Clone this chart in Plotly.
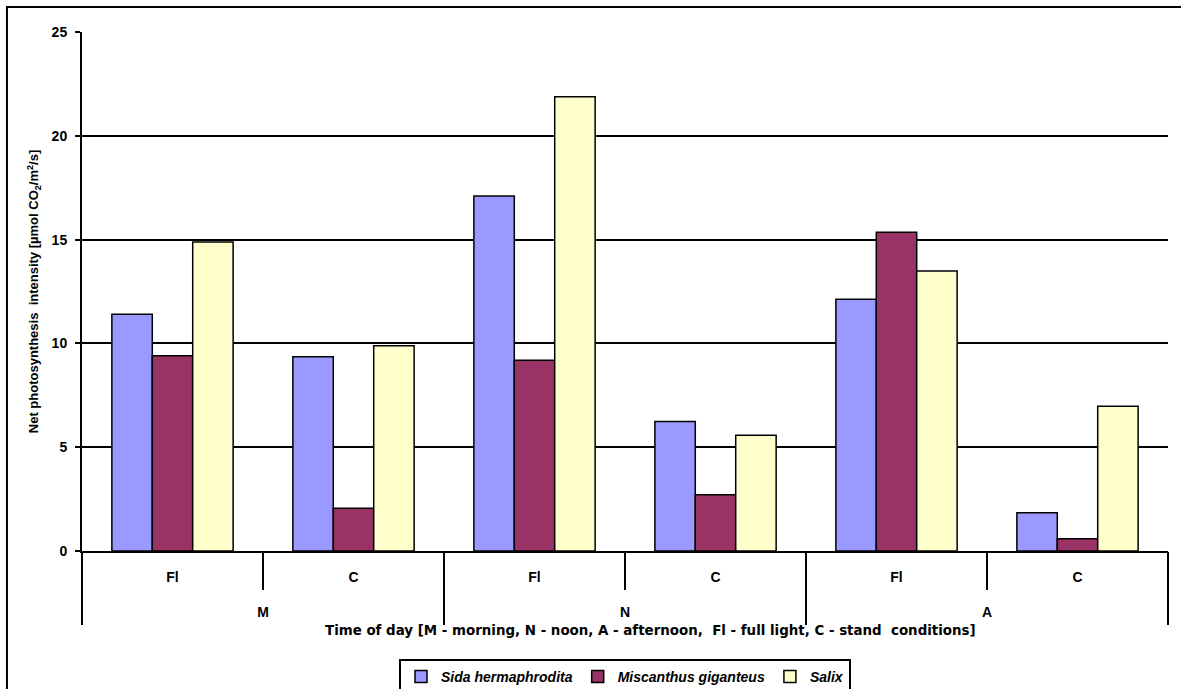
import plotly.graph_objects as go

# Time of day (outer) and light condition (inner) for each group of bars
periods = ["M", "M", "N", "N", "A", "A"]
conditions = ["Fl", "C", "Fl", "C", "Fl", "C"]
period_names = ["M", "N", "A"]

# Net photosynthesis intensity, µmol CO2/m2/s
sida = [11.4, 9.36, 17.1, 6.24, 12.13, 1.84]
miscanthus = [9.41, 2.06, 9.19, 2.71, 15.36, 0.59]
salix = [14.88, 9.89, 21.88, 5.57, 13.49, 6.97]

series = [
    ("<i>Sida hermaphrodita</i>", sida, "#9999FF"),
    ("<i>Miscanthus giganteus</i>", miscanthus, "#993366"),
    ("<i>Salix</i>", salix, "#FFFFCC"),
]

FONT = "Liberation Sans, Arial, sans-serif"
WIDE = "DejaVu Sans, Liberation Sans, sans-serif"

# one category per (time of day, condition) pair
keys = [f"{p} {c}" for p, c in zip(periods, conditions)]

fig = go.Figure()
for name, vals, color in series:
    fig.add_trace(go.Bar(
        x=keys,
        y=vals,
        name=name,
        marker=dict(color=color, line=dict(color="black", width=1.5)),
    ))

# invisible trace that carries the time-of-day categories on the second axis
fig.add_trace(go.Scatter(
    x=period_names, y=[None] * len(period_names),
    xaxis="x2", mode="markers", showlegend=False, hoverinfo="skip",
))

tick_font = dict(family=FONT, size=14, color="black", weight="bold")

fig.update_layout(
    width=1181,
    height=689,
    margin=dict(l=82, r=13, t=32, b=138, autoexpand=False),
    paper_bgcolor="white",
    plot_bgcolor="white",
    barmode="group",
    bargap=0.33,
    bargroupgap=0,
    font=dict(family=FONT, size=13, color="black"),
    legend=dict(
        orientation="h",
        x=0.5, xanchor="center",
        y=-0.208, yanchor="top",
        bordercolor="black", borderwidth=2,
        font=dict(family=FONT, size=14, color="black", weight="bold"),
        itemwidth=30,
        tracegroupgap=0,
    ),
    xaxis=dict(
        type="category",
        automargin=False,
        tickvals=keys, ticktext=conditions,
        showline=True, linecolor="black", linewidth=2,
        ticks="outside", tickson="boundaries", ticklen=37, tickwidth=2, tickcolor="black",
        ticklabelstandoff=12,
        tickfont=tick_font,
        showgrid=False,
    ),
    xaxis2=dict(
        type="category",
        overlaying="x", anchor="y", side="bottom",
        automargin=False,
        range=[-0.5, len(period_names) - 0.5],
        showline=False,
        ticks="outside", tickson="boundaries", ticklen=73, tickwidth=2, tickcolor="black",
        ticklabelstandoff=51,
        tickfont=tick_font,
        showgrid=False,
    ),
    yaxis=dict(
        range=[0, 25],
        dtick=5,
        automargin=False,
        showline=True, linecolor="black", linewidth=2,
        ticks="outside", ticklen=5, tickwidth=2, tickcolor="black",
        ticklabelstandoff=5,
        showgrid=True, gridcolor="black", gridwidth=1.5,
        zeroline=False,
        tickfont=tick_font,
        title=dict(
            text="Net photosynthesis  intensity [µmol CO<sub>2</sub>/m<sup>2</sup>/s]",
            font=dict(family=FONT, size=13, color="black", weight="bold"),
            standoff=10,
        ),
    ),
    annotations=[
        dict(
            text="Time of day [M - morning, N - noon, A - afternoon,  Fl - full light, C - stand  conditions]",
            xref="paper", yref="paper", x=0.5235, y=-0.154,
            xanchor="center", yanchor="middle", showarrow=False,
            font=dict(family=WIDE, size=13.4, color="black", weight="bold"),
        ),
    ],
    shapes=[
        # outer frame of the chart
        dict(type="rect", xref="paper", yref="paper",
             x0=-0.0691, x1=1.05, y0=-0.4, y1=1.048,
             line=dict(color="black", width=2), layer="below"),
    ],
)

fig.write_html("out.html")
